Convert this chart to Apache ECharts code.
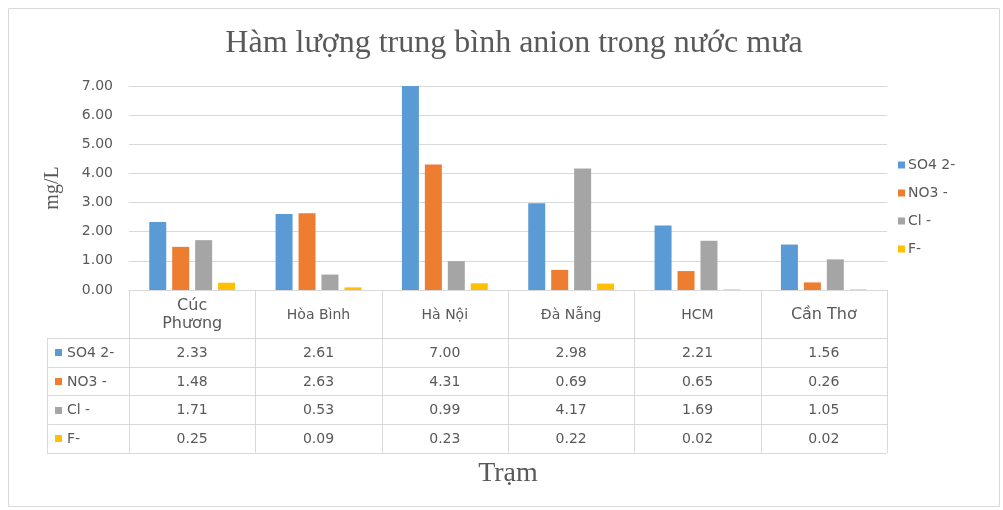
<!DOCTYPE html>
<html><head><meta charset="utf-8">
<script src="https://cdn.jsdelivr.net/npm/echarts/dist/echarts.min.js"></script>
<style>html,body{margin:0;padding:0;background:#fff}#c{width:1003px;height:510px}</style>
</head><body><div id="c"></div>
<script>
const categories = ['Cúc\nPhương', 'Hòa Bình', 'Hà Nội', 'Đà Nẵng', 'HCM', 'Cần Thơ'];
const seriesNames = ['SO4 2-', 'NO3 -', 'Cl -', 'F-'];
const so4 = [2.33, 2.61, 7.00, 2.98, 2.21, 1.56];
const no3 = [1.48, 2.63, 4.31, 0.69, 0.65, 0.26];
const cl = [1.71, 0.53, 0.99, 4.17, 1.69, 1.05];
const fl = [0.25, 0.09, 0.23, 0.22, 0.02, 0.02];
const yMin = 0, yMax = 7, yStep = 1;
const titleText = 'Hàm lượng trung bình anion trong nước mưa';
const yName = 'mg/L';
const xName = 'Trạm';

const allSeries = [so4, no3, cl, fl];
const colors = ['#5B9BD5', '#ED7D31', '#A5A5A5', '#FFC000'];
const txt = '#595959';
const lineC = '#d9d9d9';
const GL = 129, GR = 116, GT = 86, GB = 220;

const chart = echarts.init(document.getElementById('c'), null, {renderer: 'canvas'});
chart.setOption({
  animation: false,
  backgroundColor: '#fff',
  grid: {left: GL, right: GR, top: GT, bottom: GB, containLabel: false},
  legend: {
    orient: 'vertical', left: 893, top: 152, itemWidth: 7, itemHeight: 7, itemGap: 12,
    icon: 'rect', data: seriesNames,
    textStyle: {color: txt, fontSize: 14, fontFamily: 'DejaVu Sans', lineHeight: 16, padding: [0, 0, 0, -2]}
  },
  xAxis: {
    type: 'category', data: categories,
    axisLine: {show: true, lineStyle: {color: lineC}},
    axisTick: {show: false}, axisLabel: {show: false}, splitLine: {show: false}
  },
  yAxis: {
    type: 'value', min: yMin, max: yMax, interval: yStep,
    name: yName, nameLocation: 'middle', nameRotate: 90, nameGap: 66,
    nameTextStyle: {fontFamily: 'Liberation Serif', fontSize: 20, color: txt},
    axisLine: {show: false}, axisTick: {show: false},
    axisLabel: {margin: 16, color: txt, fontSize: 14, fontFamily: 'DejaVu Sans', formatter: v => v.toFixed(2)},
    splitLine: {lineStyle: {color: lineC}}
  },
  series: allSeries.map((d, i) => ({
    name: seriesNames[i], type: 'bar', data: d, barWidth: 17, barGap: '35%',
    itemStyle: {color: colors[i]}
  }))
});

// table below the axis, positioned from the axis scales
const y0 = chart.convertToPixel({yAxisIndex: 0}, yMin);
const plotW = 1003 - GL - GR;
const band = plotW / categories.length;
const centers = categories.map((c, i) => chart.convertToPixel({xAxisIndex: 0}, i));
const edges = [GL].concat(categories.map((c, i) => GL + band * (i + 1)));
const headH = 48, rowH = 28.7, tableL = 47;
const g = [];
const px = v => Math.round(v) + 0.5;
const tableBottom = y0 + headH + rowH * seriesNames.length;
// outer frame
g.push({type: 'rect', shape: {x: 8.5, y: 8.5, width: 991, height: 498}, style: {fill: 'none', stroke: lineC, lineWidth: 1}});
// vertical lines
edges.forEach(x => g.push({type: 'line', shape: {x1: px(x), y1: y0, x2: px(x), y2: tableBottom}, style: {stroke: lineC, lineWidth: 1}}));
g.push({type: 'line', shape: {x1: px(tableL), y1: y0 + headH, x2: px(tableL), y2: tableBottom}, style: {stroke: lineC, lineWidth: 1}});
// horizontal lines
for (let r = 0; r <= seriesNames.length; r++) {
  const y = px(y0 + headH + rowH * r);
  g.push({type: 'line', shape: {x1: tableL, y1: y, x2: edges[edges.length - 1], y2: y}, style: {stroke: lineC, lineWidth: 1}});
}
// header labels
const bigCats = {0: 16, 5: 16};
categories.forEach((c, i) => {
  const fs = bigCats[i] || 14;
  g.push({type: 'text', x: centers[i], y: y0 + headH / 2 + 1,
    style: {text: c, font: fs + 'px "DejaVu Sans"', fill: txt, align: 'center', verticalAlign: 'middle', lineHeight: 18}});
});
// rows
seriesNames.forEach((n, r) => {
  const cy = y0 + headH + rowH * r + rowH / 2;
  g.push({type: 'rect', shape: {x: 55, y: Math.round(cy) - 3, width: 7, height: 7}, style: {fill: colors[r]}});
  g.push({type: 'text', x: 67, y: cy + 1, style: {text: n, font: '14px "DejaVu Sans"', fill: txt, align: 'left', verticalAlign: 'middle'}});
  allSeries[r].forEach((v, i) => {
    g.push({type: 'text', x: centers[i], y: cy + 1, style: {text: v.toFixed(2), font: '14px "DejaVu Sans"', fill: txt, align: 'center', verticalAlign: 'middle'}});
  });
});
// titles
g.push({type: 'text', x: 514, y: 44, style: {text: titleText, font: '32px "Liberation Serif"', fill: txt, align: 'center', verticalAlign: 'middle'}});
g.push({type: 'text', x: (edges[0] + edges[edges.length - 1]) / 2, y: 474, style: {text: xName, font: '28px "Liberation Serif"', fill: txt, align: 'center', verticalAlign: 'middle'}});
chart.setOption({graphic: g});
</script>
</body></html>
